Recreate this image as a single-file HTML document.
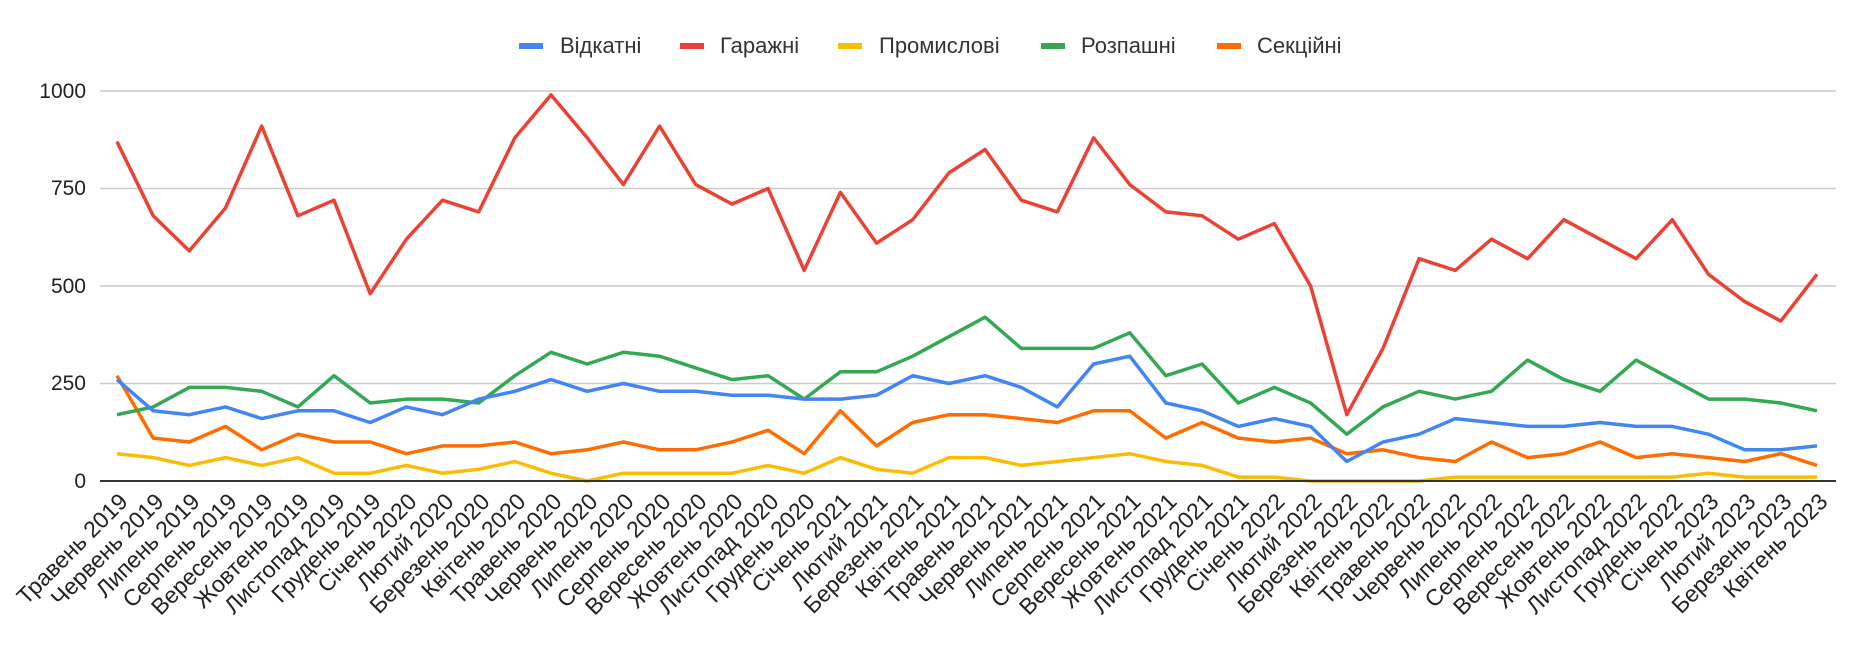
<!DOCTYPE html>
<html><head><meta charset="utf-8"><style>
html,body{margin:0;padding:0;background:#fff;}
svg{display:block;font-family:"Liberation Sans",Arial,sans-serif;}
</style></head><body>
<svg id="c" width="1868" height="652" xmlns="http://www.w3.org/2000/svg">
<g stroke="#cccccc" stroke-width="1.5">
<line x1="100" x2="1836" y1="91" y2="91"/>
<line x1="100" x2="1836" y1="188.5" y2="188.5"/>
<line x1="100" x2="1836" y1="286" y2="286"/>
<line x1="100" x2="1836" y1="383.5" y2="383.5"/>
</g>
<g font-size="21" fill="#222" text-anchor="end">
<text x="86" y="98">1000</text>
<text x="86" y="195">750</text>
<text x="86" y="293">500</text>
<text x="86" y="390">250</text>
<text x="86" y="488">0</text>
</g>
<g font-size="22" fill="#333">
<rect x="519" y="43" width="24" height="6" fill="#4285f4"/><text x="560" y="53">Відкатні</text>
<rect x="680" y="43" width="24" height="6" fill="#ea4335"/><text x="720" y="53">Гаражні</text>
<rect x="838" y="43" width="24" height="6" fill="#fbbc04"/><text x="879" y="53">Промислові</text>
<rect x="1041" y="43" width="24" height="6" fill="#34a853"/><text x="1081" y="53">Розпашні</text>
<rect x="1217" y="43" width="24" height="6" fill="#ff6d01"/><text x="1257" y="53">Секційні</text>
</g>
<g id="lines" fill="none" stroke-width="3.5" stroke-linejoin="round"></g>
<line x1="100" x2="1836" y1="481" y2="481" stroke="#333" stroke-width="2"/>
<g font-size="23" fill="#222" text-anchor="end">
<text transform="translate(129,503) rotate(-45)">Травень 2019</text>
<text transform="translate(165,503) rotate(-45)">Червень 2019</text>
<text transform="translate(201,503) rotate(-45)">Липень 2019</text>
<text transform="translate(238,503) rotate(-45)">Серпень 2019</text>
<text transform="translate(274,503) rotate(-45)">Вересень 2019</text>
<text transform="translate(310,503) rotate(-45)">Жовтень 2019</text>
<text transform="translate(346,503) rotate(-45)">Листопад 2019</text>
<text transform="translate(382,503) rotate(-45)">Грудень 2019</text>
<text transform="translate(418,503) rotate(-45)">Січень 2020</text>
<text transform="translate(455,503) rotate(-45)">Лютий 2020</text>
<text transform="translate(491,503) rotate(-45)">Березень 2020</text>
<text transform="translate(527,503) rotate(-45)">Квітень 2020</text>
<text transform="translate(563,503) rotate(-45)">Травень 2020</text>
<text transform="translate(599,503) rotate(-45)">Червень 2020</text>
<text transform="translate(635,503) rotate(-45)">Липень 2020</text>
<text transform="translate(672,503) rotate(-45)">Серпень 2020</text>
<text transform="translate(708,503) rotate(-45)">Вересень 2020</text>
<text transform="translate(744,503) rotate(-45)">Жовтень 2020</text>
<text transform="translate(780,503) rotate(-45)">Листопад 2020</text>
<text transform="translate(816,503) rotate(-45)">Грудень 2020</text>
<text transform="translate(852,503) rotate(-45)">Січень 2021</text>
<text transform="translate(889,503) rotate(-45)">Лютий 2021</text>
<text transform="translate(925,503) rotate(-45)">Березень 2021</text>
<text transform="translate(961,503) rotate(-45)">Квітень 2021</text>
<text transform="translate(997,503) rotate(-45)">Травень 2021</text>
<text transform="translate(1033,503) rotate(-45)">Червень 2021</text>
<text transform="translate(1069,503) rotate(-45)">Липень 2021</text>
<text transform="translate(1106,503) rotate(-45)">Серпень 2021</text>
<text transform="translate(1142,503) rotate(-45)">Вересень 2021</text>
<text transform="translate(1178,503) rotate(-45)">Жовтень 2021</text>
<text transform="translate(1214,503) rotate(-45)">Листопад 2021</text>
<text transform="translate(1250,503) rotate(-45)">Грудень 2021</text>
<text transform="translate(1286,503) rotate(-45)">Січень 2022</text>
<text transform="translate(1323,503) rotate(-45)">Лютий 2022</text>
<text transform="translate(1359,503) rotate(-45)">Березень 2022</text>
<text transform="translate(1395,503) rotate(-45)">Квітень 2022</text>
<text transform="translate(1431,503) rotate(-45)">Травень 2022</text>
<text transform="translate(1467,503) rotate(-45)">Червень 2022</text>
<text transform="translate(1503,503) rotate(-45)">Липень 2022</text>
<text transform="translate(1540,503) rotate(-45)">Серпень 2022</text>
<text transform="translate(1576,503) rotate(-45)">Вересень 2022</text>
<text transform="translate(1612,503) rotate(-45)">Жовтень 2022</text>
<text transform="translate(1648,503) rotate(-45)">Листопад 2022</text>
<text transform="translate(1684,503) rotate(-45)">Грудень 2022</text>
<text transform="translate(1720,503) rotate(-45)">Січень 2023</text>
<text transform="translate(1757,503) rotate(-45)">Лютий 2023</text>
<text transform="translate(1793,503) rotate(-45)">Березень 2023</text>
<text transform="translate(1829,503) rotate(-45)">Квітень 2023</text>
</g>
</svg>
<script>
var S=[
["#fbbc04",[70,60,40,60,40,60,20,20,40,20,30,50,20,0,20,20,20,20,40,20,60,30,20,60,60,40,50,60,70,50,40,10,10,0,0,0,0,10,10,10,10,10,10,10,20,10,10,10]],
["#ff6d01",[270,110,100,140,80,120,100,100,70,90,90,100,70,80,100,80,80,100,130,70,180,90,150,170,170,160,150,180,180,110,150,110,100,110,70,80,60,50,100,60,70,100,60,70,60,50,70,40]],
["#34a853",[170,190,240,240,230,190,270,200,210,210,200,270,330,300,330,320,290,260,270,210,280,280,320,370,420,340,340,340,380,270,300,200,240,200,120,190,230,210,230,310,260,230,310,260,210,210,200,180]],
["#4285f4",[260,180,170,190,160,180,180,150,190,170,210,230,260,230,250,230,230,220,220,210,210,220,270,250,270,240,190,300,320,200,180,140,160,140,50,100,120,160,150,140,140,150,140,140,120,80,80,90]],
["#ea4335",[870,680,590,700,910,680,720,480,620,720,690,880,990,880,760,910,760,710,750,540,740,610,670,790,850,720,690,880,760,690,680,620,660,500,170,340,570,540,620,570,670,620,570,670,530,460,410,530]]
];
var g=document.getElementById('lines');
S.forEach(function(s){
 var p=s[1].map(function(v,i){return (117+i*1700/47).toFixed(1)+','+(481-v*0.39).toFixed(1)}).join(' ');
 var e=document.createElementNS('http://www.w3.org/2000/svg','polyline');
 e.setAttribute('points',p);e.setAttribute('stroke',s[0]);g.appendChild(e);
});
</script>
</body></html>
